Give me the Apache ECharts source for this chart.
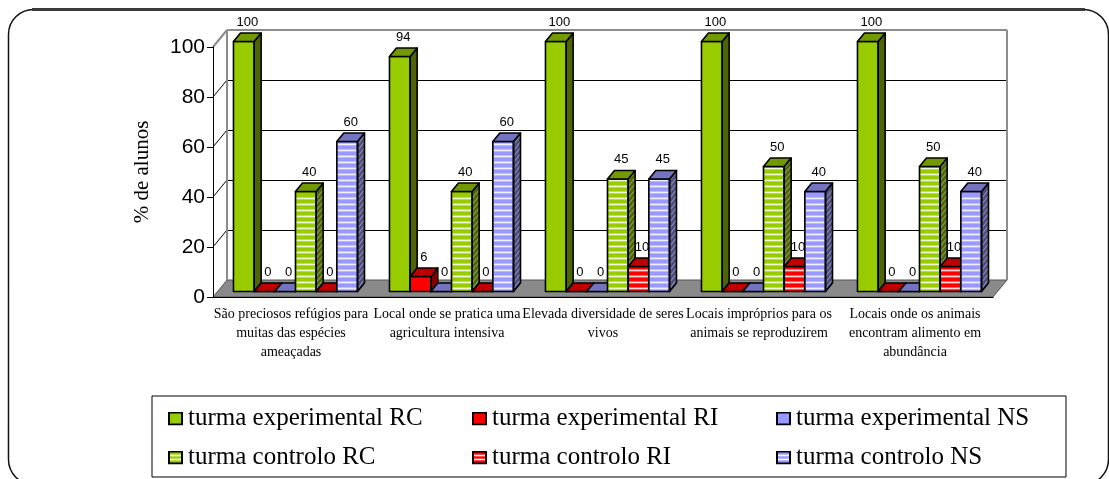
<!DOCTYPE html>
<html>
<head>
<meta charset="utf-8">
<script src="https://cdn.jsdelivr.net/npm/echarts@6/dist/echarts.min.js"></script>
<style>
  html, body { margin: 0; padding: 0; background: #fff; }
  #chart { width: 1109px; height: 479px; }
</style>
</head>
<body>
<div id="chart"></div>
<script>
// Categories (line breaks as they wrap under the axis)
const categories = [
  'São preciosos refúgios para\nmuitas das espécies\nameaçadas',
  'Local onde se pratica uma\nagricultura intensiva',
  'Elevada diversidade de seres\nvivos',
  'Locais impróprios para os\nanimais se reproduzirem',
  'Locais onde os animais\nencontram alimento em\nabundância'
];

const seriesNames = [
  'turma experimental RC', 'turma experimental RI', 'turma experimental NS',
  'turma controlo RC', 'turma controlo RI', 'turma controlo NS'
];

// Percentages per category
const expRC  = [100, 94, 100, 100, 100];
const expRI  = [0, 6, 0, 0, 0];
const expNS  = [0, 0, 0, 0, 0];
const ctrlRC = [40, 40, 45, 50, 50];
const ctrlRI = [0, 0, 10, 10, 10];
const ctrlNS = [60, 60, 45, 40, 40];

const yTicks = [0, 20, 40, 60, 80, 100];
const yAxisName = '% de alunos';

// Face colours for the pseudo-3D boxes
const GREEN = { front: '#99cc00', top: '#739900', side: '#4d6600' };
const RED   = { front: '#ff0000', top: '#bf0000', side: '#800000' };
const BLUE  = { front: '#9999ff', top: '#7373bf', side: '#4d4d80' };

const seriesDefs = [
  { data: expRC,  pal: GREEN, striped: false },
  { data: expRI,  pal: RED,   striped: false },
  { data: expNS,  pal: BLUE,  striped: false },
  { data: ctrlRC, pal: GREEN, striped: true },
  { data: ctrlRI, pal: RED,   striped: true },
  { data: ctrlNS, pal: BLUE,  striped: true }
];

// Depth of the chart box (screen offset of the back wall) and bar placement in depth
const DEPTH = [14, -17];
const NEAR = 0.32, FAR = 0.82;
const GROUP_RATIO = 0.795;
const N = seriesDefs.length;
const SERIF = '"Liberation Serif", "Times New Roman", serif';
const SANS = '"Liberation Sans", Arial, sans-serif';

const crisp = v => Math.round(v) + 0.5;

function renderWalls(params, api) {
  if (params.dataIndex !== 0) return;
  const cs = params.coordSys;
  const L = cs.x, R = cs.x + cs.width;
  const [dx, dy] = DEPTH;
  const y0 = api.coord([0, yTicks[0]])[1];
  const yTop = api.coord([0, yTicks[yTicks.length - 1]])[1];
  const kids = [];
  // floor
  kids.push({
    type: 'polygon',
    shape: { points: [[L, y0], [L + dx, y0 + dy], [R + dx, y0 + dy], [R, y0]] },
    style: { fill: '#8a8a8a', stroke: '#555', lineWidth: 1 }
  });
  // grid lines on back wall and left wall
  yTicks.forEach((t, k) => {
    if (k === 0 || k === yTicks.length - 1) return;
    const y = api.coord([0, t])[1];
    const yb = crisp(y + dy);
    kids.push({ type: 'line', shape: { x1: L + dx, y1: yb, x2: R + dx, y2: yb }, style: { stroke: '#000', lineWidth: 1 } });
    kids.push({ type: 'line', shape: { x1: L, y1: y, x2: L + dx, y2: y + dy }, style: { stroke: '#000', lineWidth: 1 } });
  });
  // box edges
  const edge = { stroke: '#8c8c8c', lineWidth: 2 };
  kids.push({ type: 'line', shape: { x1: L, y1: yTop, x2: L + dx, y2: yTop + dy }, style: edge });
  kids.push({ type: 'line', shape: { x1: L + dx, y1: yTop + dy, x2: R + dx, y2: yTop + dy }, style: edge });
  kids.push({ type: 'line', shape: { x1: L + dx, y1: yTop + dy, x2: L + dx, y2: y0 + dy }, style: edge });
  kids.push({ type: 'line', shape: { x1: R + dx, y1: yTop + dy, x2: R + dx, y2: y0 + dy }, style: edge });
  return { type: 'group', children: kids };
}

function makeBarRenderer(idx, pal, striped) {
  return function (params, api) {
    const c = api.value(0), v = api.value(1);
    const base = api.coord([c, 0]);
    const top = api.coord([c, v]);
    const cw = api.size([1, 0])[0];
    const gw = cw * GROUP_RATIO;
    const bw = gw / N;
    const nx = DEPTH[0] * NEAR, ny = DEPTH[1] * NEAR;
    const fx = DEPTH[0] * (FAR - NEAR), fy = DEPTH[1] * (FAR - NEAR);
    const x0 = base[0] - gw / 2 + idx * bw + nx;
    const x1 = x0 + bw;
    const yb = base[1] + ny;
    const yt = top[1] + ny;
    const kids = [];
    const outline = { fill: null, stroke: '#000', lineWidth: 1.6, lineJoin: 'round' };

    const sidePts = [[x1, yt], [x1 + fx, yt + fy], [x1 + fx, yb + fy], [x1, yb]];
    const frontPts = [[x0, yt], [x1, yt], [x1, yb], [x0, yb]];
    const topPts = [[x0, yt], [x0 + fx, yt + fy], [x1 + fx, yt + fy], [x1, yt]];

    kids.push({ type: 'polygon', shape: { points: sidePts }, style: { fill: pal.side } });
    kids.push({ type: 'polygon', shape: { points: frontPts }, style: { fill: pal.front } });
    if (striped) {
      const h = 1.8;
      for (let s = yb - 4; s - 0.5 >= yt; s -= 6) {
        kids.push({ type: 'rect', shape: { x: x0 + 1, y: s, width: bw - 2, height: h }, style: { fill: 'rgba(255,255,255,0.85)' } });
        kids.push({
          type: 'polygon',
          shape: { points: [[x1, s], [x1 + fx, s + fy], [x1 + fx, s + fy + h], [x1, s + h]] },
          style: { fill: 'rgba(255,255,255,0.35)' }
        });
      }
    }
    kids.push({ type: 'polygon', shape: { points: sidePts }, style: outline });
    kids.push({ type: 'polygon', shape: { points: frontPts }, style: outline });
    kids.push({ type: 'polygon', shape: { points: topPts }, style: { fill: pal.top, stroke: '#000', lineWidth: 1.6, lineJoin: 'round' } });

    kids.push({
      type: 'text',
      style: {
        text: String(v),
        x: (x0 + x1) / 2 + fx / 2,
        y: yt + fy - 11,
        align: 'center', verticalAlign: 'middle',
        textAlign: 'center', textVerticalAlign: 'middle',
        font: '13px ' + SANS,
        fill: '#000'
      }
    });
    return { type: 'group', children: kids };
  };
}

function legendIcon(pal, striped) {
  let svg = '<svg xmlns="http://www.w3.org/2000/svg" width="15" height="14" viewBox="0 0 15 14">' +
    '<rect x="1" y="1" width="13" height="12" fill="' + pal.front + '" stroke="#000" stroke-width="2"/>';
  if (striped) {
    svg += '<rect x="2" y="4.2" width="11" height="1.6" fill="#fff"/>' +
           '<rect x="2" y="8.2" width="11" height="1.6" fill="#fff"/>';
  }
  svg += '</svg>';
  return 'image://data:image/svg+xml;charset=utf-8,' + encodeURIComponent(svg);
}

const series = [{
  type: 'custom',
  name: '__walls',
  silent: true,
  renderItem: renderWalls,
  data: [[0, 0]],
  z: 1
}];
seriesDefs.forEach((d, i) => {
  series.push({
    type: 'custom',
    name: seriesNames[i],
    renderItem: makeBarRenderer(i, d.pal, d.striped),
    itemStyle: { color: d.pal.front },
    data: d.data.map((v, c) => [c, v]),
    encode: { x: 0, y: 1 },
    z: 2
  });
});

const chart = echarts.init(document.getElementById('chart'), null, { renderer: 'canvas' });
chart.setOption({
  animation: false,
  backgroundColor: '#fff',
  grid: { left: 213, right: 116, top: 47, bottom: 182 },
  xAxis: {
    type: 'category',
    data: categories,
    z: 10,
    axisLine: { lineStyle: { color: '#000', width: 1 } },
    axisTick: { length: 6, lineStyle: { color: '#000' } },
    axisLabel: {
      interval: 0, margin: 8, color: '#000',
      fontFamily: SERIF, fontSize: 14, lineHeight: 19, hideOverlap: false
    },
    splitLine: { show: false }
  },
  yAxis: {
    type: 'value',
    min: 0, max: 100, interval: 20,
    z: 10,
    name: yAxisName,
    nameLocation: 'middle',
    nameGap: 60,
    nameRotate: 90,
    nameTextStyle: { fontFamily: SERIF, fontSize: 21, color: '#000' },
    axisLine: { show: true, lineStyle: { color: '#000', width: 1 } },
    axisTick: { show: true, length: 6, lineStyle: { color: '#000' } },
    axisLabel: { margin: 8, color: '#000', fontFamily: SANS, fontSize: 21 },
    splitLine: { show: false }
  },
  legend: {
    data: seriesNames.map((n, i) => ({ name: n, icon: legendIcon(seriesDefs[i].pal, seriesDefs[i].striped) })),
    left: 152, top: 396, width: 905,
    orient: 'horizontal',
    padding: [10, 0, 7, 16],
    itemGap: 14,
    itemWidth: 15, itemHeight: 14,
    borderColor: '#000', borderWidth: 1,
    selectedMode: false,
    textStyle: { fontFamily: SERIF, fontSize: 25, color: '#000', width: 270, lineHeight: 24, overflow: 'truncate' }
  },
  graphic: [
    { type: 'rect', silent: true, z: -10, shape: { x: 8.5, y: 9.5, width: 1100, height: 475, r: 25 },
      style: { fill: null, stroke: '#111', lineWidth: 1.5 } },
    { type: 'line', silent: true, z: -10, shape: { x1: 32, y1: 9.5, x2: 1085, y2: 9.5 },
      style: { stroke: '#3a3a3a', lineWidth: 3 } }
  ],
  series: series
});
</script>
</body>
</html>
